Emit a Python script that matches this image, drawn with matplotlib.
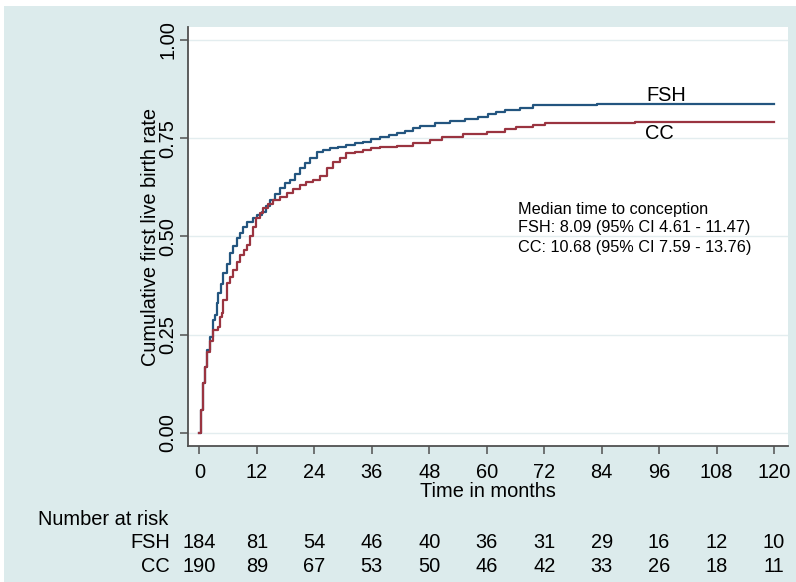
import matplotlib
matplotlib.use('Agg')
import matplotlib.pyplot as plt
from matplotlib.patches import Rectangle
import matplotlib.transforms as mtransforms

# ---------------- data ----------------
fsh_t = [0, 0.3, 0.8, 1.15, 1.6, 2.2, 2.9, 3.2, 3.6, 3.9,
         4.4, 5.0, 5.7, 6.4, 7.1, 7.8, 8.4, 9.1, 10.0, 11.2,
         12.0, 13.0, 13.8, 14.7, 15.7, 16.8, 17.8, 18.9, 19.9, 21.0,
         22.0, 23.1, 24.5, 25.8, 27.2, 29.0, 30.7, 32.4, 34.1, 35.9,
         37.7, 39.5, 41.2, 42.9, 44.6, 46.0, 49.2, 52.3, 55.4, 58.1,
         60.2, 62.0, 63.8, 66.9, 69.6, 83.0, 120]
fsh_v = [0, 0.058, 0.127, 0.169, 0.211, 0.245, 0.288, 0.30, 0.33, 0.355,
         0.38, 0.406, 0.43, 0.457, 0.477, 0.495, 0.51, 0.525, 0.536, 0.546,
         0.555, 0.563, 0.578, 0.593, 0.608, 0.623, 0.635, 0.645, 0.66, 0.675,
         0.688, 0.699, 0.716, 0.72, 0.724, 0.728, 0.733, 0.737, 0.741, 0.747,
         0.754, 0.759, 0.764, 0.769, 0.775, 0.78, 0.789, 0.794, 0.80, 0.805,
         0.811, 0.817, 0.822, 0.828, 0.835, 0.838, 0.838]

cc_t = [0, 0.3, 0.8, 1.15, 1.6, 2.2, 2.9, 3.9, 4.3, 4.6,
        5.0, 5.7, 6.4, 7.1, 7.8, 8.5, 9.2, 9.9, 10.6, 11.2,
        11.9, 12.6, 13.3, 14.3, 15.4, 16.8, 18.2, 19.6, 21.0, 22.3,
        23.7, 25.1, 26.6, 27.9, 29.3, 30.7, 32.4, 34.1, 35.9, 37.7,
        41.2, 44.6, 48.1, 50.6, 55.0, 60.0, 63.8, 66.2, 69.6, 72.2,
        91.0, 120]
cc_v = [0, 0.058, 0.127, 0.169, 0.205, 0.235, 0.262, 0.27, 0.296, 0.305,
        0.338, 0.381, 0.398, 0.415, 0.434, 0.453, 0.466, 0.478, 0.50, 0.525,
        0.546, 0.56, 0.572, 0.583, 0.593, 0.60, 0.61, 0.62, 0.631, 0.638,
        0.644, 0.655, 0.674, 0.69, 0.70, 0.712, 0.716, 0.72, 0.724, 0.727,
        0.730, 0.737, 0.746, 0.754, 0.76, 0.767, 0.773, 0.778, 0.784, 0.788,
        0.792, 0.792]

x_ticks = [0, 12, 24, 36, 48, 60, 72, 84, 96, 108, 120]
y_ticks = [0.0, 0.25, 0.5, 0.75, 1.0]
y_tick_labels = ['0.00', '0.25', '0.50', '0.75', '1.00']

risk_groups = ['FSH', 'CC']
fsh_risk = [184, 81, 54, 46, 40, 36, 31, 29, 16, 12, 10]
cc_risk = [190, 89, 67, 53, 50, 46, 42, 33, 26, 18, 11]

median_lines = ['Median time to conception',
                'FSH: 8.09 (95% CI 4.61 - 11.47)',
                'CC: 10.68 (95% CI 7.59 - 13.76)']

# ---------------- style ----------------
plt.rcParams['font.family'] = ['Liberation Sans', 'DejaVu Sans']
W, H = 796, 582
bg = '#dcebec'
navy = '#23557f'
maroon = '#9a3440'
axcol = '#505050'
fs = 14.4

fig = plt.figure(figsize=(W / 100, H / 100), dpi=100, facecolor=bg)
# thin white border on top and left edges
fig.patches.append(Rectangle((0, 1 - 6 / H), 1, 6 / H, transform=fig.transFigure,
                             facecolor='white', edgecolor='none'))
fig.patches.append(Rectangle((0, 0), 4 / W, 1, transform=fig.transFigure,
                             facecolor='white', edgecolor='none'))

ax = fig.add_axes([188 / W, 136 / H, 600 / W, 419 / H])
ax.set_facecolor('white')

ax.step(fsh_t, fsh_v, where='post', color=navy, lw=1.6, zorder=3)
ax.step(cc_t, cc_v, where='post', color=maroon, lw=1.6, zorder=3)

ax.set_xlim(-2.40, 122.92)
ax.set_ylim(-0.0331, 1.0331)

ax.set_xticks(x_ticks)
ax.set_yticks(y_ticks)
ax.set_yticklabels(y_tick_labels)
ax.yaxis.grid(True, color='#e3edef', lw=1.0)
ax.set_axisbelow(True)

for s in ['top', 'right']:
    ax.spines[s].set_visible(False)
for s in ['left', 'bottom']:
    ax.spines[s].set_color(axcol)
    ax.spines[s].set_linewidth(1.3)

ax.tick_params(axis='both', length=6, width=1.1, color=axcol,
               labelsize=fs, labelcolor='black', direction='out')
ax.tick_params(axis='x', pad=6.3)
ax.tick_params(axis='y', pad=1.5, labelrotation=90)
for lbl in ax.get_yticklabels():
    lbl.set_va('center')

# axis titles
ax.text(-0.0533, 0.5, 'Cumulative first live birth rate', transform=ax.transAxes,
        rotation=90, ha='center', va='baseline', rotation_mode='anchor', fontsize=fs)
ax.text(0.5, -0.1217, 'Time in months', transform=ax.transAxes,
        ha='center', va='baseline', fontsize=fs)

# curve labels
ax.text(93.4, 0.846, 'FSH', ha='left', va='baseline', fontsize=fs)
ax.text(93.1, 0.748, 'CC', ha='left', va='baseline', fontsize=fs)

# median text
for txt, yv in zip(median_lines, [0.5585, 0.5102, 0.4618]):
    ax.text(66.5, yv, txt, ha='left', va='baseline', fontsize=11.7)

# number at risk table
trans = mtransforms.blended_transform_factory(ax.transData, ax.transAxes)
ax.text(-0.25, -0.1885, 'Number at risk', transform=ax.transAxes,
        ha='left', va='baseline', fontsize=fs, clip_on=False)
for grp, vals, yrow in zip(risk_groups, [fsh_risk, cc_risk], [-0.2446, -0.3007]):
    ax.text(-0.03, yrow, grp, transform=ax.transAxes, ha='right',
            va='baseline', fontsize=fs, clip_on=False)
    for t, n in zip(x_ticks, vals):
        ax.text(t, yrow, str(n), transform=trans, ha='center',
                va='baseline', fontsize=fs, clip_on=False)

fig.savefig('out.png', dpi=100, facecolor=fig.get_facecolor())
